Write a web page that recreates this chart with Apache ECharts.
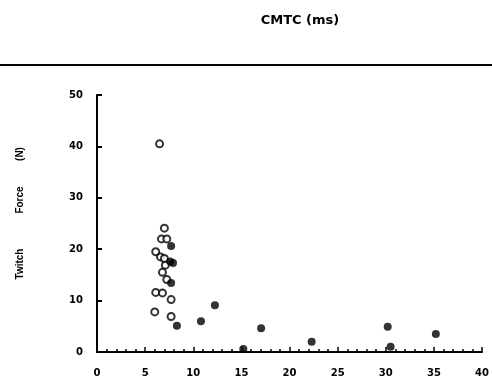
<!DOCTYPE html>
<html><head><meta charset="utf-8">
<script src="https://cdn.jsdelivr.net/npm/echarts@6/dist/echarts.min.js"></script>
<style>html,body{margin:0;padding:0;background:#fff}#c{width:492px;height:378px}</style>
</head><body><div id="c"></div>
<script>
const xTicks = [0,5,10,15,20,25,30,35,40];
const yTicks = [0,10,20,30,40,50];
// open circles: [CMTC ms, twitch force N]
const openPoints = [
  [6.5,40.5],[7.0,24.1],[6.7,22.0],[7.25,22.0],[6.1,19.5],[6.6,18.5],[7.0,18.2],
  [7.1,16.9],[6.8,15.5],[7.25,14.1],[6.1,11.6],[6.8,11.5],[7.7,10.2],[6.0,7.8],[7.7,6.9]
];
// filled circles
const filledPoints = [
  [7.7,20.6],[7.6,17.6],[7.9,17.3],[7.7,13.4],[8.3,5.1],[10.8,6.0],[12.25,9.1],
  [15.2,0.6],[17.05,4.6],[22.3,2.0],[30.2,4.9],[30.5,1.0],[35.2,3.5]
];
const titleText = 'CMTC (ms)';
const yNameParts = ['Twitch','Force','(N)'];

const chart = echarts.init(document.getElementById('c'), null, {renderer:'canvas'});
const font = 'DejaVu Sans';
const nameStyle = {fill:'#000',font:'bold 10px "Liberation Sans"',align:'center',verticalAlign:'middle'};
chart.setOption({
  animation:false,
  backgroundColor:'#fff',
  title:{text:titleText,left:295,top:9,textAlign:'center',
    textStyle:{fontFamily:font,fontWeight:'bold',fontSize:13,color:'#000'}},
  graphic:[
    {type:'line',shape:{x1:0,y1:65,x2:492,y2:65},style:{stroke:'#000',lineWidth:2}},
    {type:'text',x:20,y:264,rotation:Math.PI/2,style:Object.assign({text:yNameParts[0]},nameStyle)},
    {type:'text',x:20,y:200,rotation:Math.PI/2,style:Object.assign({text:yNameParts[1]},nameStyle)},
    {type:'text',x:20,y:154,rotation:Math.PI/2,style:Object.assign({text:yNameParts[2]},nameStyle)}
  ],
  grid:{left:97,right:8,top:95,bottom:26},
  xAxis:{type:'value',min:0,max:40,interval:5,
    axisLine:{lineStyle:{color:'#000',width:2}},
    axisTick:{inside:true,length:5,lineStyle:{color:'#000',width:1.5}},
    minorTick:{show:true,splitNumber:5,length:3,lineStyle:{color:'#000',width:1.5}},
    splitLine:{show:false},
    axisLabel:{color:'#000',fontFamily:font,fontWeight:'bold',fontSize:10,margin:16,
      formatter:v=>xTicks.includes(v)?String(v):''}},
  yAxis:{type:'value',min:0,max:50,interval:10,
    axisLine:{lineStyle:{color:'#000',width:2}},
    axisTick:{inside:true,length:5,lineStyle:{color:'#000',width:2}},
    splitLine:{show:false},
    axisLabel:{color:'#000',fontFamily:font,fontWeight:'bold',fontSize:10,margin:14,
      formatter:v=>yTicks.includes(v)?String(v):''}},
  series:[
    {type:'scatter',data:openPoints,symbol:'circle',symbolSize:7,
      itemStyle:{color:'#fff',borderColor:'#000',borderWidth:2}},
    {type:'scatter',data:filledPoints,symbol:'circle',symbolSize:8,
      itemStyle:{color:'#000',borderColor:'#000',borderWidth:0}}
  ]
});
</script></body></html>
